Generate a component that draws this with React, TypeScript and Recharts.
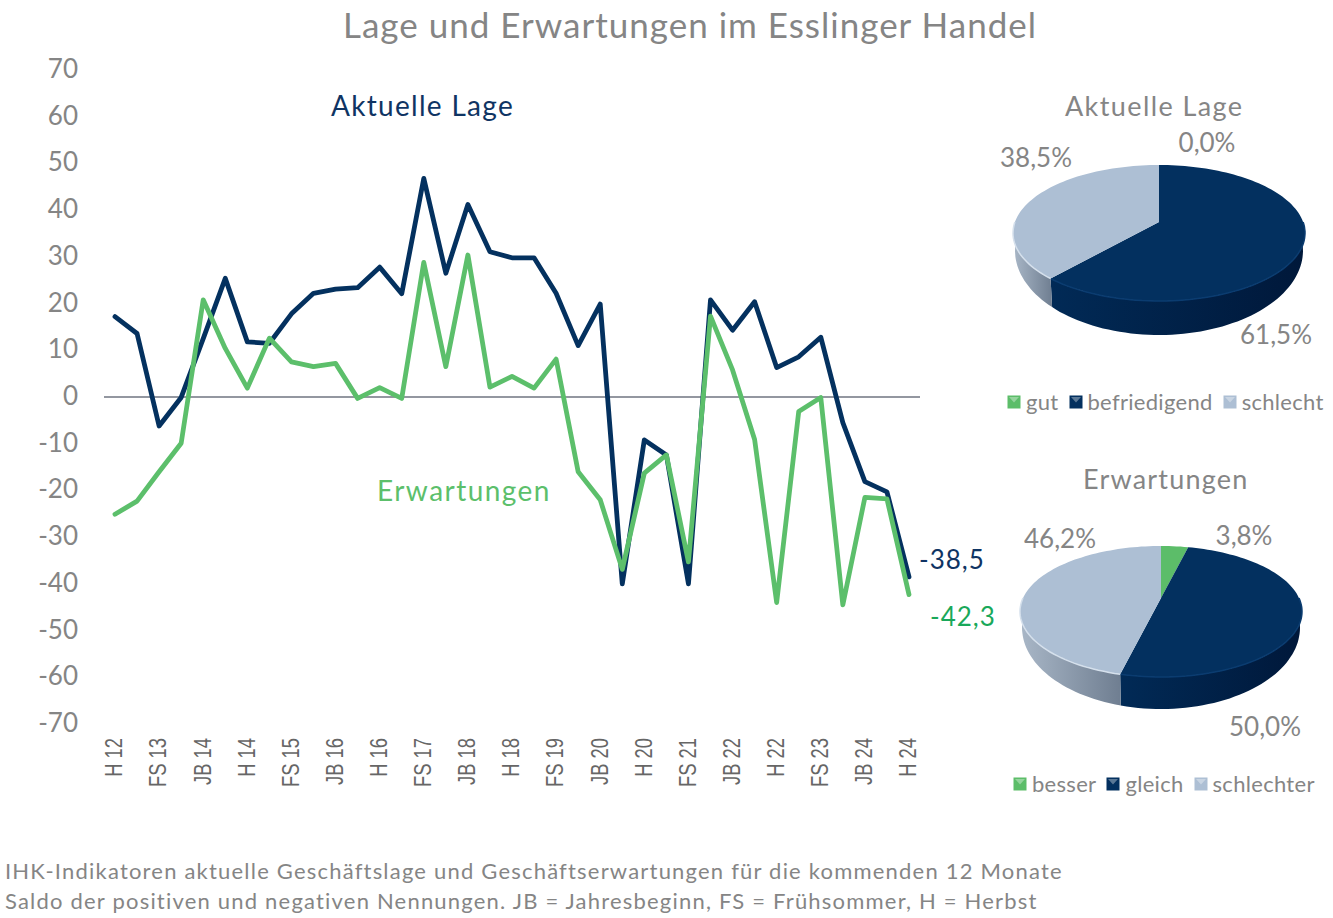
import React from 'react';
import {
  Legend,
  Line,
  LineChart,
  Pie,
  PieChart,
  ReferenceLine,
  XAxis,
  YAxis,
} from 'recharts';

const periods = [
  'H 12', 'JB 13', 'FS 13', 'H 13', 'JB 14', 'FS 14', 'H 14', 'JB 15', 'FS 15', 'H 15',
  'JB 16', 'FS 16', 'H 16', 'JB 17', 'FS 17', 'H 17', 'JB 18', 'FS 18', 'H 18', 'JB 19',
  'FS 19', 'H 19', 'JB 20', 'FS 20', 'H 20', 'JB 21', 'FS 21', 'H 21', 'JB 22', 'FS 22',
  'H 22', 'JB 23', 'FS 23', 'H 23', 'JB 24', 'FS 24', 'H 24',
];
const lageValues = [
  17.2, 13.6, -6.2, -0.1, 12.5, 25.4, 11.8, 11.5, 17.8, 22.2,
  23.1, 23.4, 27.8, 22.1, 46.8, 26.5, 41.2, 31.1, 29.8, 29.8,
  22.2, 11, 19.9, -40, -9.2, -12.4, -40, 20.8, 14.3, 20.4,
  6.3, 8.6, 12.8, -5.5, -18.1, -20.3, -38.5,
];
const erwartungValues = [
  -25.1, -22.3, -16, -9.9, 20.8, 10.4, 1.9, 12.6, 7.5, 6.5,
  7.2, -0.3, 2, -0.3, 28.8, 6.5, 30.4, 2.1, 4.4, 1.9,
  8.1, -16, -22, -36.9, -16.3, -12.4, -35.3, 17.3, 5.8, -9.1,
  -44, -3.1, -0.1, -44.5, -21.5, -21.8, -42.3,
];
const yTicks = [70, 60, 50, 40, 30, 20, 10, 0, -10, -20, -30, -40, -50, -60, -70];

const lageNames = ['gut', 'befriedigend', 'schlecht'];
const lageShares = [0, 61.5, 38.5];
const erwartungNames = ['besser', 'gleich', 'schlechter'];
const erwartungShares = [3.8, 50, 46.2];

const NAVY = '#04315f';
const GREEN = '#5cbf6b';
const GREY = '#858585';
const FONT = 'Lato, "Open Sans", sans-serif';
const sliceColors = ['#5cbd69', '#03305f', '#adbfd4'];
const wallFrom = ['#4fa65c', '#012a56', '#a9b7c7'];
const wallTo = ['#3f8a4b', '#00183a', '#6f7e91'];
const rimColors = ['#7fd08b', '#0b3c70', '#d5e0ec'];

const lineData = periods.map((period, i) => ({
  period,
  lage: lageValues[i],
  erwartung: erwartungValues[i],
}));

const toTable = (names: string[], values: number[]) =>
  names.map((name, i) => ({ name, value: values[i], fill: sliceColors[i] }));

const percent = (v: number) => `${v.toFixed(1).replace('.', ',')}%`;

const YTick = ({ x, y, payload }: any) => (
  <text x={x - 18} y={y - 2} textAnchor="end" dominantBaseline="central" fontSize={26} fill={GREY} fontFamily={FONT}>
    {payload.value}
  </text>
);

// the reference labels are squeezed along their length, hence the scale
const XTick = ({ x, y, payload }: any) => (
  <text
    transform={`translate(${x - 1},${y + 6}) rotate(-90) scale(0.8,1)`}
    textAnchor="end"
    dominantBaseline="central"
    fontSize={23}
    fill="#666666"
    fontFamily='"Liberation Sans", sans-serif'
  >
    {payload.value}
  </text>
);

const endLabel = (color: string, dx: number, dy: number) => (props: any) => {
  if (props.index !== periods.length - 1) return null;
  return (
    <text
      x={props.x + dx}
      y={props.y + dy}
      dominantBaseline="central"
      fontSize={26}
      letterSpacing={1}
      fill={color}
      fontFamily={FONT}
    >
      {String(props.value).replace('.', ',')}
    </text>
  );
};

// one slice of the tilted pie, seen in perspective: wall first, then the top face.
// far/near are how far the back and front rim lie from the pie centre on screen.
const makeSlice = (far: number, near: number, wallDown: number, wallNear: number) => (props: any) => {
  const { cx, cy, outerRadius, startAngle, endAngle, index, fill } = props;
  const hi = Math.max(startAngle, endAngle);
  const lo = Math.min(startAngle, endAngle);
  if (hi - lo < 0.01) return <g />;
  const k = (near - far) / (near + far);
  const A = outerRadius * Math.sqrt(1 - k * k);
  const B = far * (1 + k);
  const B2 = wallNear * (1 - k);
  const rad = (d: number) => (d * Math.PI) / 180;
  const arc = (from: number, to: number, aa: number, bb: number, yc: number) => {
    const pts: string[] = [];
    const n = Math.max(2, Math.ceil(Math.abs(to - from) / 2));
    for (let i = 0; i <= n; i++) {
      const t = rad(from + ((to - from) * i) / n);
      const d = 1 + k * Math.sin(t);
      pts.push(`${(cx + (aa * Math.cos(t)) / d).toFixed(1)},${(yc - (bb * Math.sin(t)) / d).toFixed(1)}`);
    }
    return pts;
  };
  const wLo = Math.max(lo, -180);
  const wHi = Math.min(hi, 0);
  const hasWall = wHi > wLo;
  const gid = `wall-${outerRadius}-${index}`;
  return (
    <g>
      <defs>
        <linearGradient id={gid} x1="0" y1="0" x2="1" y2="0">
          <stop offset="0%" stopColor={wallFrom[index]} />
          <stop offset="100%" stopColor={wallTo[index]} />
        </linearGradient>
      </defs>
      {hasWall && (
        <polygon
          points={[...arc(wHi, wLo, A, B, cy), ...arc(wLo, wHi, A - 2, B2, cy + wallDown)].join(' ')}
          fill={`url(#${gid})`}
        />
      )}
      <polygon points={[`${cx},${cy}`, ...arc(hi, lo, A, B, cy)].join(' ')} fill={fill} />
      {hasWall && (
        <polyline points={arc(wHi, wLo, A, B, cy).join(' ')} fill="none" stroke={rimColors[index]} strokeWidth={1.5} />
      )}
    </g>
  );
};

const Marker = ({ color }: { color: string }) => (
  <svg width={14} height={14} style={{ marginRight: 5, flex: 'none' }}>
    <rect x={0.5} y={0.5} width={13} height={13} fill={color} />
    <polygon points="2,2 12,2 7,7.5" fill="#ffffff" opacity={0.35} />
  </svg>
);

const PieLegend = ({ payload }: any) => (
  <div
    style={{
      display: 'flex',
      alignItems: 'center',
      fontFamily: FONT,
      fontSize: 22,
      letterSpacing: 0.3,
      color: GREY,
      whiteSpace: 'nowrap',
    }}
  >
    {(payload || []).map((item: any) => (
      <span key={item.value} style={{ display: 'flex', alignItems: 'center', marginRight: 10 }}>
        <Marker color={item.color} />
        {item.value}
      </span>
    ))}
  </div>
);

const pieLabel = (positions: number[][]) => (props: any) => {
  const [x, y] = positions[props.index];
  return (
    <text x={x} y={y} textAnchor="middle" dominantBaseline="central" fontSize={26} fill={GREY} fontFamily={FONT}>
      {percent(props.value)}
    </text>
  );
};

const abs = (left: number, top: number, extra: React.CSSProperties = {}): React.CSSProperties => ({
  position: 'absolute',
  left,
  top,
  whiteSpace: 'nowrap',
  fontFamily: FONT,
  lineHeight: 1,
  ...extra,
});

const App = () => (
  <div style={{ position: 'absolute', left: 0, top: 0, width: 1333, height: 918, background: '#fff', overflow: 'hidden' }}>
    <div style={abs(0, 7, { width: 1380, textAlign: 'center', fontSize: 35, letterSpacing: 1, color: GREY })}>
      Lage und Erwartungen im Esslinger Handel
    </div>

    <div style={{ position: 'absolute', left: 0, top: 0 }}>
      <LineChart width={1000} height={830} data={lineData} margin={{ top: 70, right: 80, bottom: 0, left: 0 }}>
        <XAxis
          dataKey="period"
          interval={1}
          padding={{ left: 11, right: 11 }}
          height={106}
          axisLine={false}
          tickLine={false}
          tick={<XTick />}
        />
        <YAxis
          width={104}
          domain={[-70, 70]}
          ticks={yTicks}
          interval={0}
          axisLine={false}
          tickLine={false}
          tick={<YTick />}
        />
        <ReferenceLine y={0} stroke="#6f7580" strokeWidth={1.5} />
        <Line
          dataKey="lage"
          stroke={NAVY}
          strokeWidth={4.8}
          strokeLinejoin="round"
          strokeLinecap="round"
          dot={false}
          isAnimationActive={false}
          label={endLabel('#0f3463', 10, -18)}
        />
        <Line
          dataKey="erwartung"
          stroke={GREEN}
          strokeWidth={4.8}
          strokeLinejoin="round"
          strokeLinecap="round"
          dot={false}
          isAnimationActive={false}
          label={endLabel('#19a85a', 21, 21)}
        />
      </LineChart>
    </div>

    <div style={abs(331, 91, { fontSize: 28, letterSpacing: 1.3, color: '#0f3463' })}>Aktuelle Lage</div>
    <div style={abs(377, 476, { fontSize: 28, letterSpacing: 1.45, color: GREEN })}>Erwartungen</div>

    <div style={abs(1065, 92, { fontSize: 27, letterSpacing: 1.4, color: GREY })}>Aktuelle Lage</div>
    <div style={{ position: 'absolute', left: 990, top: 120 }}>
      <PieChart width={343} height={300} margin={{ top: 0, right: 0, bottom: 0, left: 0 }}>
        <Pie
          data={toTable(lageNames, lageShares)}
          dataKey="value"
          nameKey="name"
          cx={169}
          cy={102}
          outerRadius={146}
          startAngle={90}
          endAngle={-270}
          stroke="none"
          isAnimationActive={false}
          shape={makeSlice(57, 79, 15, 98)}
          label={pieLabel([[217, 22], [286, 214], [46, 37]])}
          labelLine={false}
        />
        <Legend content={<PieLegend />} itemSorter={null} wrapperStyle={{ left: 17, top: 268, width: 330 }} />
      </PieChart>
    </div>

    <div style={abs(1083, 465, { fontSize: 27, letterSpacing: 1.2, color: GREY })}>Erwartungen</div>
    <div style={{ position: 'absolute', left: 990, top: 500 }}>
      <PieChart width={343} height={300} margin={{ top: 0, right: 0, bottom: 0, left: 0 }}>
        <Pie
          data={toTable(erwartungNames, erwartungShares)}
          dataKey="value"
          nameKey="name"
          cx={171}
          cy={98}
          outerRadius={141}
          startAngle={90}
          endAngle={-270}
          stroke="none"
          isAnimationActive={false}
          shape={makeSlice(52, 79, 13, 98)}
          label={pieLabel([[254, 35], [275, 226], [70, 38]])}
          labelLine={false}
        />
        <Legend content={<PieLegend />} itemSorter={null} wrapperStyle={{ left: 23, top: 270, width: 330 }} />
      </PieChart>
    </div>

    <div style={abs(5, 860, { fontSize: 22, letterSpacing: 1.2, color: GREY })}>
      IHK-Indikatoren aktuelle Geschäftslage und Geschäftserwartungen für die kommenden 12 Monate
    </div>
    <div style={abs(5, 890, { fontSize: 22, letterSpacing: 1.2, color: GREY })}>
      Saldo der positiven und negativen Nennungen. JB = Jahresbeginn, FS = Frühsommer, H = Herbst
    </div>
  </div>
);

export default App;
